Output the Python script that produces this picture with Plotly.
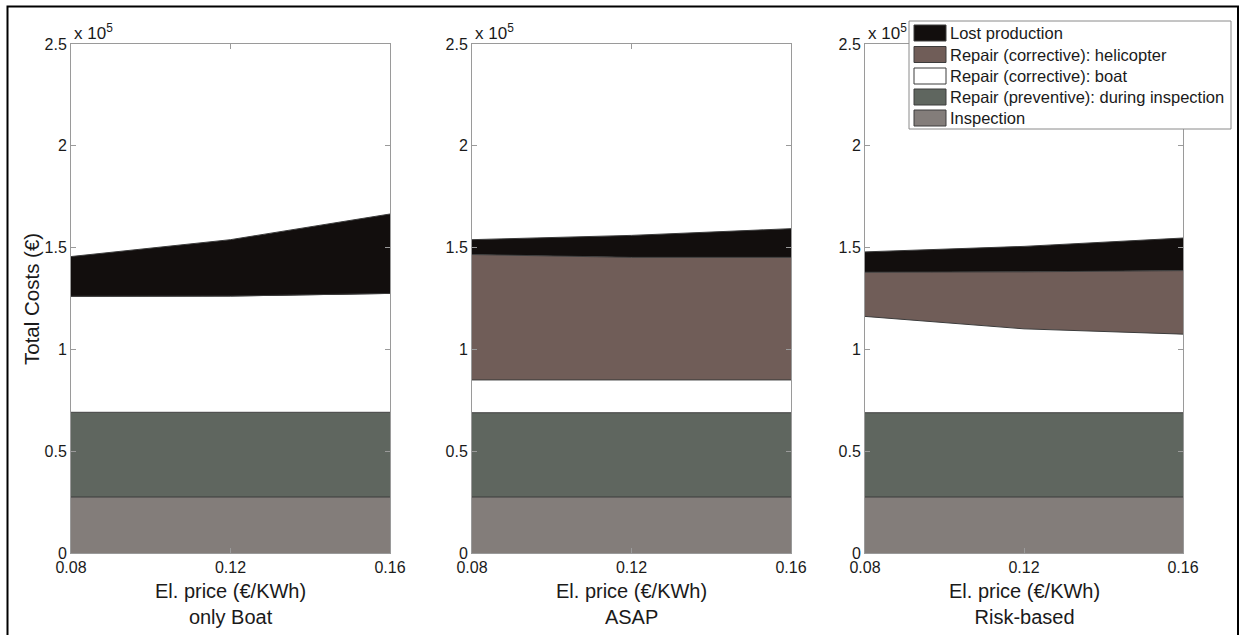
import plotly.graph_objects as go

W, H = 1244, 635

# ---------------- data ----------------
prices = [0.08, 0.12, 0.16]
price_labels = ["0.08", "0.12", "0.16"]
scenarios = ["only Boat", "ASAP", "Risk-based"]
y_tick_vals = [0, 50000, 100000, 150000, 200000, 250000]
y_tick_text = ["0", "0.5", "1", "1.5", "2", "2.5"]

# component names, bottom to top of the stack
components = [
    "Inspection",
    "Repair (preventive): during inspection",
    "Repair (corrective): boat",
    "Repair (corrective): helicopter",
    "Lost production",
]
component_colors = ["#837d7a", "#5f665f", "#ffffff", "#705d58", "#120e0d"]

# values in euro (per el. price 0.08, 0.12, 0.16)
inspection_only_boat = [27500, 27500, 27500]
preventive_only_boat = [41600, 41700, 41600]
boat_only_boat = [57000, 57000, 58400]
helicopter_only_boat = [0, 0, 0]
lost_only_boat = [19500, 27700, 39000]

inspection_asap = [27500, 27500, 27500]
preventive_asap = [41400, 41400, 41400]
boat_asap = [16100, 16100, 16100]
helicopter_asap = [61600, 60200, 60200]
lost_asap = [7300, 10800, 14100]

inspection_risk = [27500, 27500, 27500]
preventive_risk = [41400, 41500, 41400]
boat_risk = [47300, 41100, 38600]
helicopter_risk = [21700, 28000, 31200]
lost_risk = [10000, 12500, 16000]

panels = [
    [inspection_only_boat, preventive_only_boat, boat_only_boat, helicopter_only_boat, lost_only_boat],
    [inspection_asap, preventive_asap, boat_asap, helicopter_asap, lost_asap],
    [inspection_risk, preventive_risk, boat_risk, helicopter_risk, lost_risk],
]

# ---------------- layout geometry (pixels) ----------------
panel_x = [(71, 390), (472, 791), (865, 1183)]
panel_top, panel_bottom = 44, 553

def px(x):
    return x / W

def py(y):
    return 1 - y / H

FONT = "Liberation Sans, Arial, sans-serif"
AXIS_GRAY = "#9a9a9a"

fig = go.Figure()

for i, series in enumerate(panels):
    sfx = "" if i == 0 else str(i + 1)
    for name, vals, col in zip(components, series, component_colors):
        fig.add_trace(go.Scatter(
            x=prices, y=vals, name=name, mode="lines",
            stackgroup=f"s{i}", fillcolor=col,
            line=dict(color="#3c3c3c", width=1),
            showlegend=False, hoverinfo="skip",
            xaxis="x" + sfx, yaxis="y" + sfx,
        ))

layout = dict(
    width=W, height=H, autosize=False,
    margin=dict(l=0, r=0, t=0, b=0),
    paper_bgcolor="white", plot_bgcolor="white",
    font=dict(family=FONT, size=16, color="#1a1a1a"),
    showlegend=False,
)

for i, (x0, x1) in enumerate(panel_x):
    sfx = "" if i == 0 else str(i + 1)
    common = dict(
        showline=True, linecolor=AXIS_GRAY, linewidth=1, mirror="ticks",
        ticks="inside", ticklen=5, tickcolor=AXIS_GRAY, tickwidth=1,
        showgrid=False, zeroline=False, automargin=False, fixedrange=True,
        tickfont=dict(family=FONT, size=16, color="#1a1a1a"),
    )
    layout["xaxis" + sfx] = dict(
        domain=[px(x0), px(x1)], range=[0.08, 0.16],
        tickmode="array", tickvals=prices, ticktext=price_labels,
        anchor="y" + sfx, ticklabelstandoff=0, **common)
    layout["yaxis" + sfx] = dict(
        domain=[py(panel_bottom), py(panel_top)], range=[0, 250000],
        tickmode="array", tickvals=y_tick_vals, ticktext=y_tick_text,
        anchor="x" + sfx, ticklabelstandoff=0, **common)

fig.update_layout(**layout)

annotations = []
shapes = []

for i, (x0, x1) in enumerate(panel_x):
    annotations.append(dict(
        xref="paper", yref="paper", x=px((x0 + x1) / 2), y=py(578),
        xanchor="center", yanchor="top", showarrow=False,
        text="El. price (€/KWh)<br>" + scenarios[i],
        font=dict(family=FONT, size=20, color="#1a1a1a"),
    ))
    annotations.append(dict(
        xref="paper", yref="paper", x=px(x0 + 1), y=py(32),
        xanchor="left", yanchor="middle", showarrow=False,
        text="x 10<sup>5</sup>",
        font=dict(family=FONT, size=17, color="#1a1a1a"),
    ))

annotations.append(dict(
    xref="paper", yref="paper", x=px(31), y=py(299),
    xanchor="center", yanchor="middle", showarrow=False, textangle=-90,
    text="Total Costs (€)", font=dict(family=FONT, size=20.5, color="#1a1a1a"),
))

# outer frame
shapes.append(dict(type="rect", xref="paper", yref="paper",
                   x0=px(7.5), x1=px(1238), y0=py(645), y1=py(6.5),
                   line=dict(color="black", width=2), fillcolor="rgba(0,0,0,0)",
                   layer="above"))

# legend box (manual, top to bottom)
shapes.append(dict(type="rect", xref="paper", yref="paper",
                   x0=px(909), x1=px(1231), y0=py(129), y1=py(21),
                   line=dict(color="#8a8a8a", width=1), fillcolor="white",
                   layer="above"))
legend_order = list(range(len(components)))[::-1]
row_y = [33, 54.5, 76, 97, 118]
for k, ci in enumerate(legend_order):
    yc = row_y[k]
    shapes.append(dict(type="rect", xref="paper", yref="paper",
                       x0=px(914), x1=px(946), y0=py(yc + 8), y1=py(yc - 8),
                       line=dict(color="#3c3c3c", width=1),
                       fillcolor=component_colors[ci], layer="above"))
    annotations.append(dict(
        xref="paper", yref="paper", x=px(948), y=py(yc),
        xanchor="left", yanchor="middle", showarrow=False,
        text=components[ci], font=dict(family=FONT, size=16.5, color="#1a1a1a"),
    ))

fig.update_layout(annotations=annotations, shapes=shapes)
fig.write_html("out.html")
